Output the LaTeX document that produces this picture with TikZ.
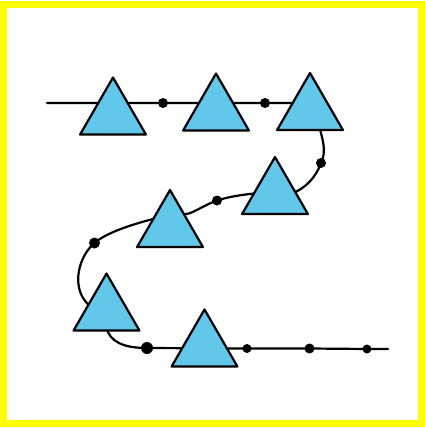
\documentclass[tikz,border=0pt]{standalone}
\usetikzlibrary{shapes.geometric}
\pgfdeclarelayer{background}
\pgfsetlayers{background,main}
\definecolor{triblue}{RGB}{98,200,235}
\definecolor{frameyellow}{RGB}{255,255,0}
\tikzset{
  tri/.style={regular polygon, regular polygon sides=3, minimum size=76pt, inner sep=0pt,
    draw=black, line width=2.2pt, line join=round, fill=triblue},
  bead/.style={circle, fill=black, inner sep=0pt, minimum size=#1},
  bead/.default=10pt,
  wire/.style={draw=black, line width=2.2pt, line cap=round}
}
\begin{document}
\begin{tikzpicture}[x=1pt,y=-1pt]
\useasboundingbox (0,0) rectangle (425,428);
% triangles
\node[tri] (T1) at (113,115.5) {};
\node[tri] (T2) at (216,111.5) {};
\node[tri] (T3) at (310,111) {};
\node[tri] (T4) at (275,195) {};
\node[tri] (T5) at (170,228) {};
\node[tri] (T6) at (106.5,311.5) {};
\node[tri] (T7) at (204.5,347.5) {};
% beads
\node[bead] (D1) at (163,103) {};
\node[bead] (D2) at (265,103) {};
\node[bead] (D3) at (321,163) {};
\node[bead] (D4) at (217,200.5) {};
\node[bead=11pt] (D5) at (94.5,243) {};
\node[bead=12pt] (D6) at (147,348) {};
\node[bead=9pt] (D7) at (247,348.5) {};
\node[bead] (D8) at (309.5,348.5) {};
\node[bead=9pt] (D9) at (367,349) {};
% wire waypoints
\coordinate (w0) at (47,103);
\coordinate (w1) at (300,103);
\coordinate (w2) at (320,129);
\coordinate (w3) at (292,193.5);
\coordinate (w4) at (254,193.5);
\coordinate (w5) at (189,213.5);
\coordinate (w6) at (153,219);
\coordinate (w7) at (86,302);
\coordinate (w8) at (106.5,328);
\coordinate (w9) at (388,349);
\begin{pgfonlayer}{background}
\fill[white] (0,0) rectangle (425,428);
\draw[frameyellow, line width=7pt] (3.5,4.5) rectangle (421.5,423.5);
\path[wire] (w0) -- (D1.center) -- (D2.center) -- (w1)
  .. controls (318,104) and (320,115) .. (w2)
  .. controls (322,138) and (327,151) .. (D3.center)
  .. controls (316,177) and (306,188) .. (w3)
  -- (w4)
  .. controls (240,195) and (228,197) .. (D4.center)
  .. controls (207,204) and (198,210) .. (w5)
  -- (w6)
  .. controls (130,225) and (106,233) .. (D5.center)
  .. controls (78,257) and (72,286) .. (w7)
  -- (w8)
  .. controls (110,341) and (122,348) .. (D6.center)
  -- (D7.center) -- (D8.center) -- (D9.center) -- (w9);
\end{pgfonlayer}
\end{tikzpicture}
\end{document}
